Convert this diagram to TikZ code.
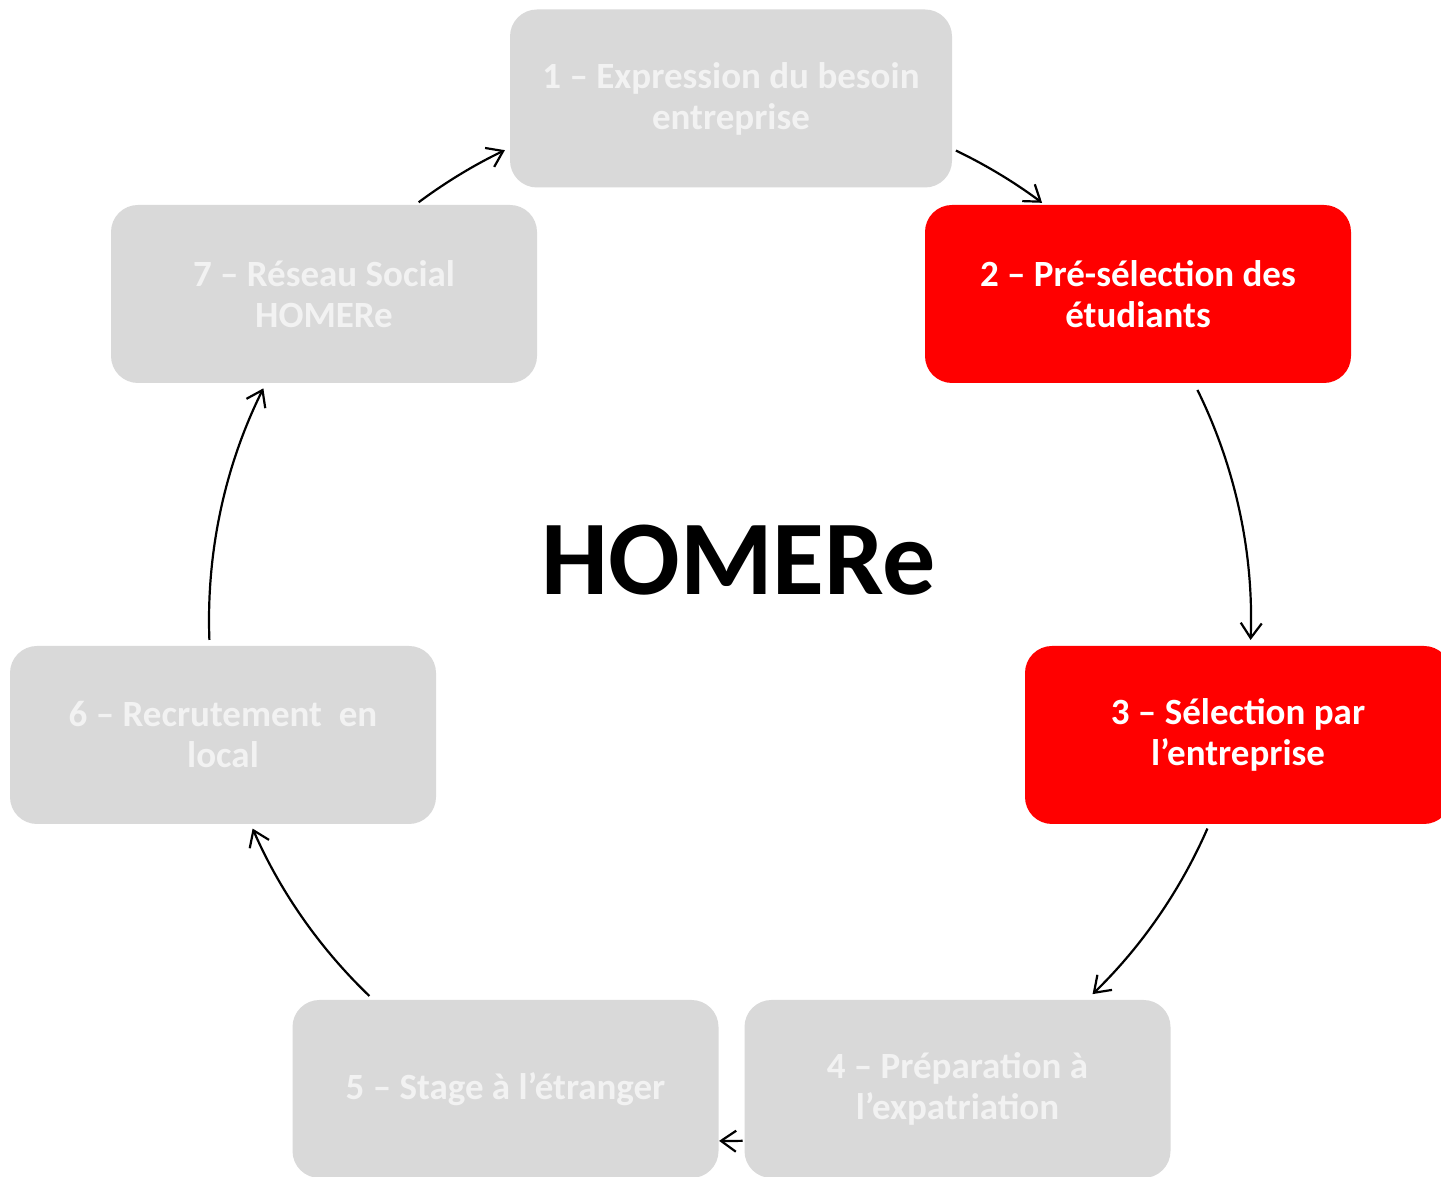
\documentclass[tikz,border=0pt]{standalone}
\usepackage{fontspec}
\setmainfont{Carlito}
\usetikzlibrary{arrows.meta,calc}
\definecolor{boxgray}{HTML}{D9D9D9}
\definecolor{boxred}{HTML}{FF0000}
\definecolor{txtgray}{HTML}{F2F2F2}
\begin{document}
\begin{tikzpicture}[x=1pt,y=1pt,
  stage/.style={rounded corners=27pt, minimum width=426pt, minimum height=178pt, inner sep=0pt,
    align=center, font=\fontsize{37}{41}\selectfont\bfseries},
  grey/.style={stage, fill=boxgray, text=txtgray},
  hot/.style={stage, fill=boxred, text=white},
  arr/.style={draw=black, line width=2.2pt, -{Straight Barb[length=15pt,width=21pt,line width=2.2pt]}}
]
\clip (0,0) rectangle (1441,1177);
\fill[white] (0,0) rectangle (1441,1177);

\node[grey, minimum width=442pt] (n1) at (731,1078.5) {1 – Expression du besoin\\entreprise};
\node[hot]  (n2) at (1138,883) {2 – Pré-sélection des\\étudiants};
\node[hot]  (n3) at (1238,442) {3 – Sélection par\\l’entreprise};
\node[grey] (n4) at (957.5,88) {4 – Préparation à\\l’expatriation};
\node[grey] (n5) at (505.5,88) {5 – Stage à l’étranger};
\node[grey] (n6) at (223,442) {6 – Recrutement\ \ en\\local};
\node[grey] (n7) at (324,883) {7 – Réseau Social\\HOMERe};

\node[anchor=base, inner sep=0pt, font=\fontsize{106}{112}\selectfont\bfseries] (title) at (739,582) {HOMERe};

\coordinate (C) at (730,557);
\coordinate (s12) at ($(C)+(64.3:521)$);
\coordinate (s23) at ($(C)+(26.2:521)$);
\coordinate (s34) at ($(C)+(-23.6:521)$);
\coordinate (s45) at ($(C)+(-88.6:521)$);
\coordinate (s56) at ($(C)+(-133.8:521)$);
\coordinate (s67) at ($(C)+(-177.8:521)$);
\coordinate (s71) at ($(C)+(126.7:521)$);

\draw[arr] (s12) arc[start angle=64.3, end angle=53.2, radius=521];
\draw[arr] (s23) arc[start angle=26.2, end angle=-2.2, radius=521];
\draw[arr] (s34) arc[start angle=-23.6, end angle=-45.9, radius=521];
\draw[arr] (s45) arc[start angle=-88.6, end angle=-91.2, radius=521];
\draw[arr] (s56) arc[start angle=-133.8, end angle=-156.4, radius=521];
\draw[arr] (s67) arc[start angle=-177.8, end angle=-206.4, radius=521];
\draw[arr] (s71) arc[start angle=126.7, end angle=115.6, radius=521];
\end{tikzpicture}
\end{document}
